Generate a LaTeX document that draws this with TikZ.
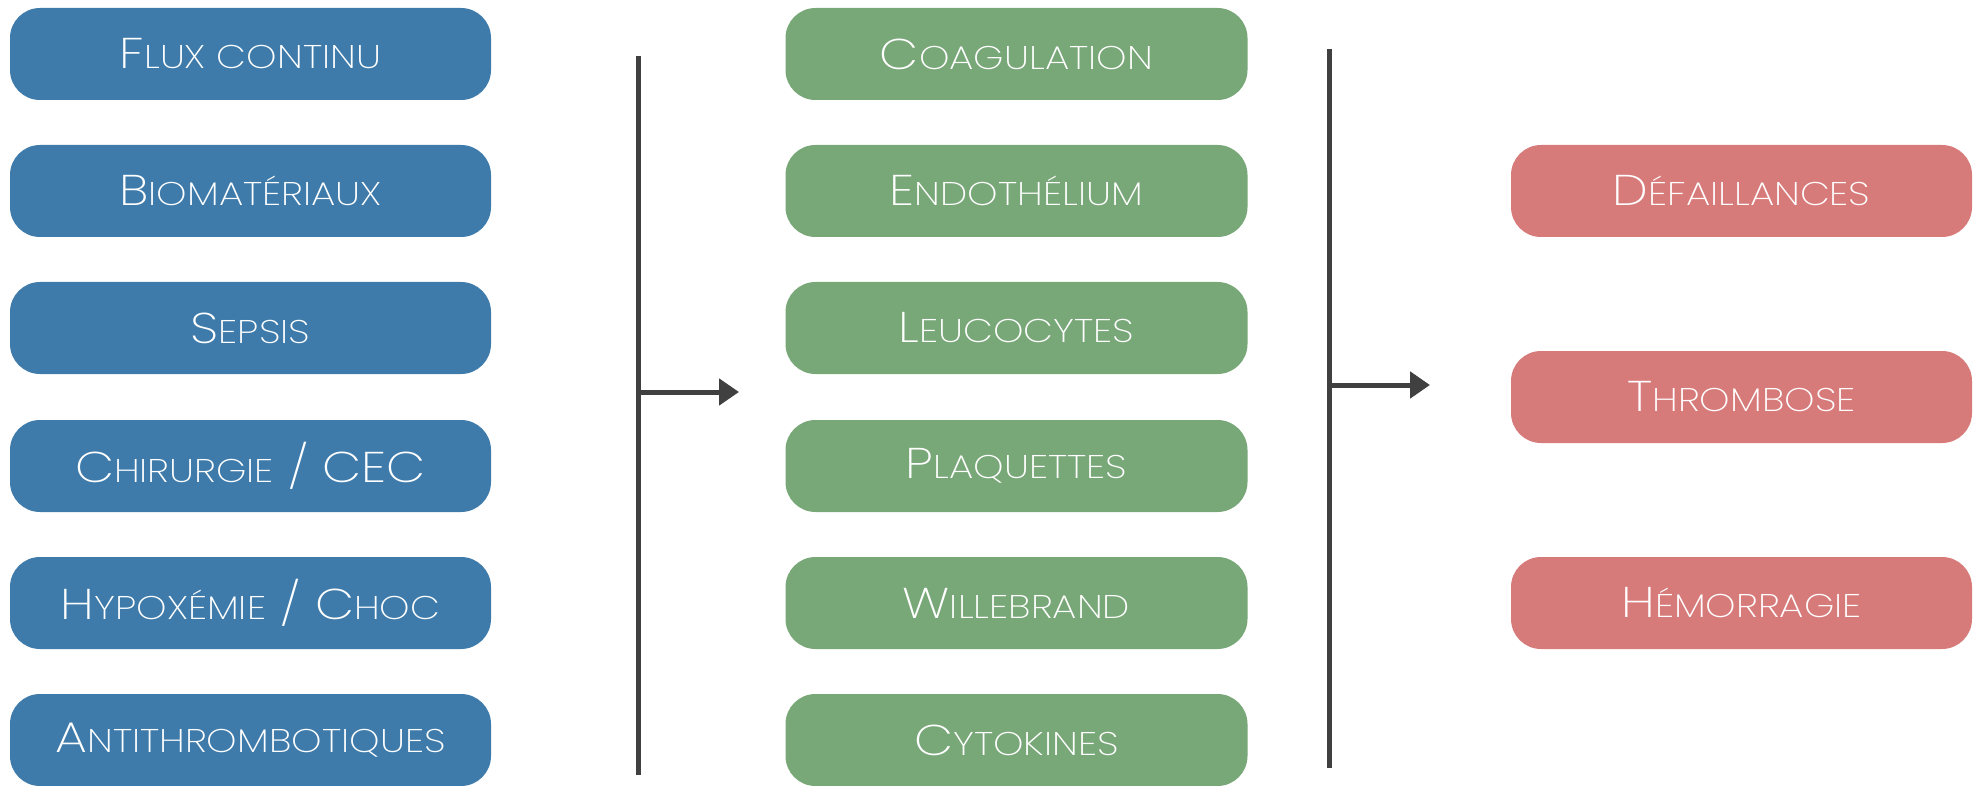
\documentclass[tikz,border=0pt]{standalone}
\usepackage{fontspec}
\setmainfont{Poppins}[UprightFont=* ExtraLight, FakeStretch=1.18]
\usetikzlibrary{arrows.meta}
\definecolor{cblue}{HTML}{3E7BAA}
\definecolor{cgreen}{HTML}{78A778}
\definecolor{cred}{HTML}{D77B7A}
\definecolor{cline}{HTML}{404040}
\newcommand\BigT{\fontsize{43}{46}\selectfont}
\newcommand\SmlT{\fontsize{32.8}{46}\selectfont}
\tikzset{
  pill/.style={rounded corners=30pt, minimum height=92pt, inner sep=0pt, text=white, font=\BigT},
  bluebox/.style={pill, fill=cblue, minimum width=481pt},
  greenbox/.style={pill, fill=cgreen, minimum width=462pt},
  redbox/.style={pill, fill=cred, minimum width=461pt},
  conn/.style={draw=cline, line width=5pt},
  arr/.style={conn, -{Triangle[length=20pt,width=26pt]}}
}
\begin{document}
\begin{tikzpicture}[x=1pt,y=-1pt]
\useasboundingbox (0,0) rectangle (1981,786);
% left column
\node[bluebox] (b1) at (250.5,54)  {F\SmlT LUX CONTINU};
\node[bluebox] (b2) at (250.5,191) {B\SmlT IOMATÉRIAUX};
\node[bluebox] (b3) at (250.5,328) {S\SmlT EPSIS};
\node[bluebox] (b4) at (250.5,466) {C{\SmlT HIRURGIE} / CEC};
\node[bluebox] (b5) at (250.5,603) {H{\SmlT YPOXÉMIE} / C{\SmlT HOC}};
\node[bluebox] (b6) at (250.5,740) {A\SmlT NTITHROMBOTIQUES};
% middle column
\node[greenbox] (g1) at (1016.5,54)  {C\SmlT OAGULATION};
\node[greenbox] (g2) at (1016.5,191) {E\SmlT NDOTHÉLIUM};
\node[greenbox] (g3) at (1016.5,328) {L\SmlT EUCOCYTES};
\node[greenbox] (g4) at (1016.5,466) {P\SmlT LAQUETTES};
\node[greenbox] (g5) at (1016.5,603) {W\SmlT ILLEBRAND};
\node[greenbox] (g6) at (1016.5,740) {C\SmlT YTOKINES};
% right column
\node[redbox] (r1) at (1741.5,191) {D\SmlT ÉFAILLANCES};
\node[redbox] (r2) at (1741.5,397) {T\SmlT HROMBOSE};
\node[redbox] (r3) at (1741.5,603) {H\SmlT ÉMORRAGIE};
% connectors
\coordinate (l1t) at (638,56);
\coordinate (l1b) at (638,775);
\coordinate (l1m) at (638,392);
\coordinate (l1e) at (739,392);
\coordinate (l2t) at (1329,49);
\coordinate (l2b) at (1329,768);
\coordinate (l2m) at (1329,385);
\coordinate (l2e) at (1430,385);
\draw[conn] (l1t) -- (l1b);
\draw[arr] (l1m) -- (l1e);
\draw[conn] (l2t) -- (l2b);
\draw[arr] (l2m) -- (l2e);
\end{tikzpicture}
\end{document}
